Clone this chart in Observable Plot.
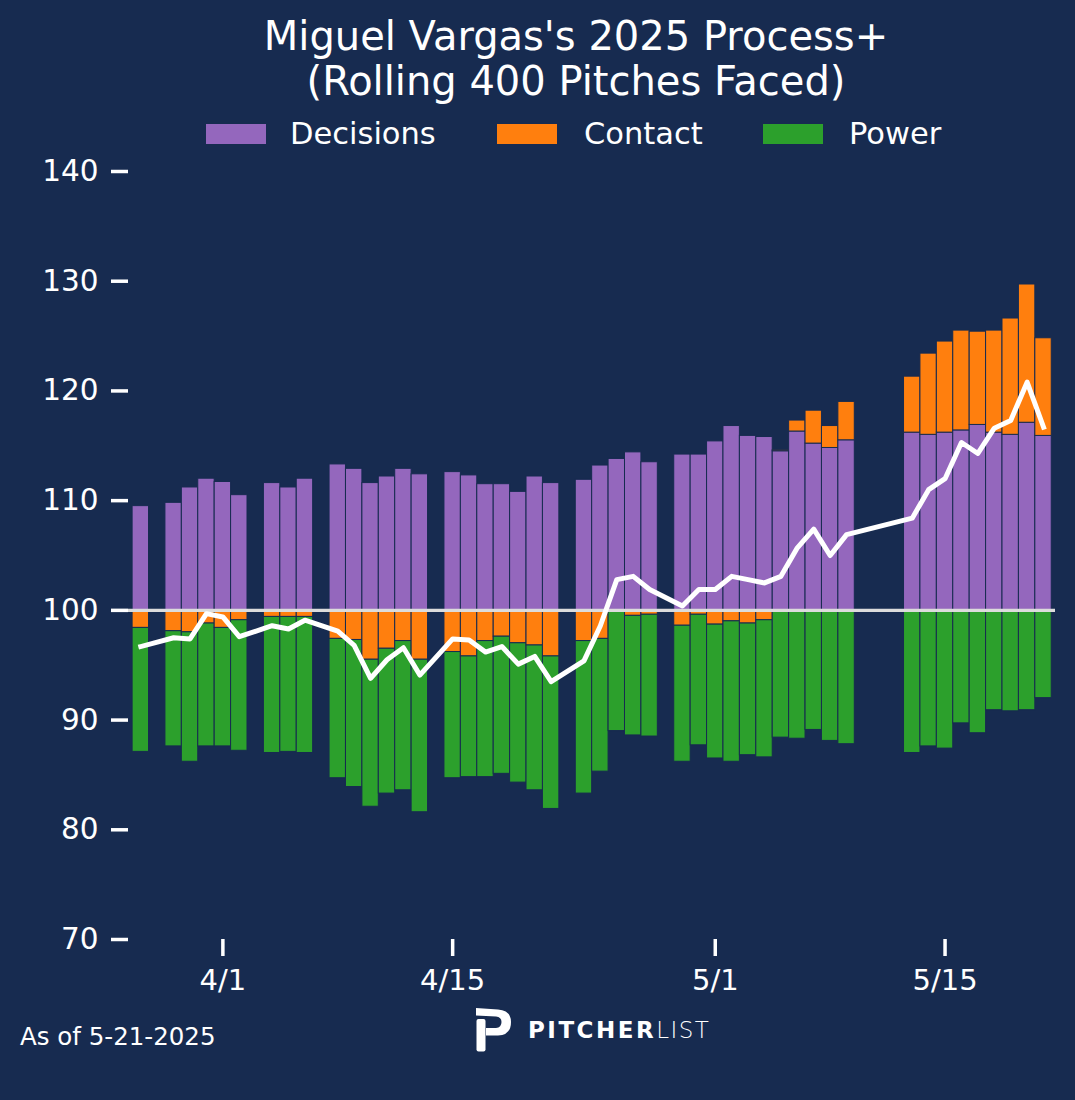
<!DOCTYPE html>
<html>
<head>
<meta charset="utf-8">
<script src="https://cdn.jsdelivr.net/npm/d3@7"></script>
<script src="https://cdn.jsdelivr.net/npm/@observablehq/plot@0.6"></script>
<style>
  html, body { margin: 0; padding: 0; background: #172b50; overflow: hidden; }
  #wrap { position: relative; width: 1075px; height: 1100px; background: #172b50; font-family: "DejaVu Sans", sans-serif; color: #fff; }
  .title { position: absolute; left: 77px; width: 998px; top: 14px; text-align: center; font-size: 40px; line-height: 44.5px; white-space: nowrap; }
  .sw { position: absolute; top: 124px; width: 60px; height: 20px; }
  .lt { position: absolute; top: 124px; font-size: 30.5px; line-height: 20px; white-space: nowrap; }
  #chart { position: absolute; left: 0; top: 150px; }
  .asof { position: absolute; left: 20px; top: 1025px; font-size: 24.5px; line-height: 24px; white-space: nowrap; }
  .logo { position: absolute; left: 476px; top: 1008px; }
  .logotext { position: absolute; left: 528px; top: 1018px; font-size: 23px; line-height: 24px; white-space: nowrap; }
  .logotext b { font-weight: bold; letter-spacing: 2.5px; }
  .logotext span { font-weight: 200; letter-spacing: 1.5px; }
</style>
</head>
<body>
<div id="wrap">
  <div class="title">Miguel Vargas's 2025 Process+<br>(Rolling 400 Pitches Faced)</div>
  <div id="legend"></div>
  <div id="chart"></div>
  <div class="asof">As of 5-21-2025</div>
  <svg class="logo" width="36" height="44" viewBox="0 0 36 44">
    <path d="M0,0 L22,1.5 Q35,2.5 35,14 Q35,27 22,27.5 L10,27.5 L10,20 L20,20 Q25.5,19.5 25.5,14 Q25.5,9 20,8.5 L0,7.5 Z" fill="#fff"/>
    <rect x="0.5" y="11" width="9" height="32.5" rx="2" fill="#fff"/>
  </svg>
  <div class="logotext"><b>PITCHER</b><span>LIST</span></div>
</div>
<script>
// ---- data (values are deviations from the 100 baseline) ----
const dates = ["3/27","3/29","3/30","3/31","4/1","4/2","4/4","4/5","4/6","4/8","4/9","4/10","4/11","4/12","4/13",
  "4/15","4/16","4/17","4/18","4/19","4/20","4/21","4/23","4/24","4/25","4/26","4/27","4/29","4/30",
  "5/1","5/2","5/3","5/4","5/5","5/6","5/7","5/8","5/9","5/13","5/14","5/15","5/16","5/17","5/18","5/19","5/20","5/21"];
const decisions = [9.5,9.8,11.2,12.0,11.7,10.5,11.6,11.2,12.0,13.3,12.9,11.6,12.2,12.9,12.4,
  12.6,12.3,11.5,11.5,10.8,12.2,11.6,11.9,13.2,13.8,14.4,13.5,14.2,14.2,
  15.4,16.8,15.9,15.8,14.5,16.3,15.2,14.8,15.5,16.2,16.0,16.2,16.4,16.9,16.2,16.0,17.1,15.9];
const contact = [-1.6,-1.9,-2.0,-1.2,-1.6,-0.9,-0.6,-0.6,-0.6,-2.6,-2.7,-4.5,-3.5,-2.8,-4.5,
  -3.8,-4.2,-2.8,-2.4,-3.0,-3.2,-4.2,-2.8,-2.6,0.0,-0.5,-0.4,-1.4,-0.4,
  -1.3,-1.0,-1.2,-0.9,0.1,1.0,3.0,2.0,3.5,5.1,7.4,8.3,9.1,8.5,9.3,10.6,12.6,8.9];
const power = [-11.3,-10.5,-11.8,-11.2,-10.8,-11.9,-12.4,-12.3,-12.4,-12.7,-13.4,-13.4,-13.2,-13.6,-13.9,
  -11.5,-11.0,-12.4,-12.5,-12.7,-13.2,-13.9,-13.9,-12.1,-11.0,-10.9,-11.1,-12.4,-11.9,
  -12.2,-12.8,-12.0,-12.5,-11.6,-11.7,-10.9,-11.9,-12.2,-13.0,-12.4,-12.6,-10.3,-11.2,-9.1,-9.2,-9.1,-8.0];
const processPlus = [96.7,97.5,97.4,99.7,99.4,97.6,98.6,98.3,99.1,98.1,96.8,93.8,95.5,96.6,94.1,
  97.4,97.3,96.2,96.7,95.1,95.8,93.5,95.4,98.6,102.8,103.1,101.9,100.4,101.9,
  101.9,103.1,102.8,102.5,103.1,105.7,107.4,105.0,106.9,108.4,111.0,112.0,115.3,114.3,116.6,117.3,120.8,116.7];
const seriesNames = ["Decisions","Contact","Power"];
const seriesColors = ["#9467bd","#ff7f0e","#2ca02c"];
const yTickLabels = [70,80,90,100,110,120,130,140];
const xTickLabels = ["4/1","4/15","5/1","5/15"];

// ---- build tables ----
const bg = "#172b50";
const parse = s => { const [m, d] = s.split("/").map(Number); return new Date(Date.UTC(2025, m - 1, d)); };
const half = 12 * 3600e3;
const table = [];
dates.forEach((s, i) => {
  const dt = parse(s);
  [decisions, contact, power].forEach((arr, k) => {
    table.push({date: dt, x1: new Date(+dt - half), x2: new Date(+dt + half), series: seriesNames[k], v: arr[i]});
  });
});
const lineData = dates.map((s, i) => ({date: parse(s), v: processPlus[i]}));

// ---- legend ----
const legend = document.getElementById("legend");
const swX = [206, 497, 763], txX = [290, 584, 849];
seriesNames.forEach((n, k) => {
  const sw = document.createElement("div");
  sw.className = "sw"; sw.style.left = swX[k] + "px"; sw.style.background = seriesColors[k];
  const t = document.createElement("div");
  t.className = "lt"; t.style.left = txX[k] + "px"; t.textContent = n;
  legend.appendChild(sw); legend.appendChild(t);
});

// ---- chart ----
const chart = Plot.plot({
  width: 1075,
  height: 850,
  marginTop: 21,
  marginBottom: 61,
  marginLeft: 128,
  marginRight: 20,
  style: {background: "transparent", color: "white", fontFamily: "DejaVu Sans, sans-serif", overflow: "visible"},
  x: {type: "utc", domain: [new Date(Date.UTC(2025, 2, 26, 6)), new Date(Date.UTC(2025, 4, 21, 17, 30))], axis: null},
  y: {domain: [-30, 40], axis: null},
  color: {domain: seriesNames, range: seriesColors},
  marks: [
    Plot.rectY(table, Plot.stackY({x1: "x1", x2: "x2", y: "v", fill: "series", stroke: bg, strokeWidth: 1})),
    Plot.ruleY([0], {stroke: "#dcdcdc", strokeWidth: 3.3}),
    Plot.line(lineData, {x: "date", y: d => d.v - 100, stroke: "white", strokeWidth: 5, strokeLinejoin: "round", strokeLinecap: "square"}),
    Plot.axisY({ticks: yTickLabels.map(t => t - 100), tickFormat: d => String(d + 100), label: null, tickSize: 17, tickPadding: 13, fontSize: 29.5, strokeWidth: 3.5}),
    Plot.axisX({ticks: xTickLabels.map(parse), tickFormat: d => `${d.getUTCMonth() + 1}/${d.getUTCDate()}`, label: null, tickSize: 17, tickPadding: 13, fontSize: 29, strokeWidth: 3.5})
  ]
});
document.getElementById("chart").appendChild(chart);
</script>
</body>
</html>
